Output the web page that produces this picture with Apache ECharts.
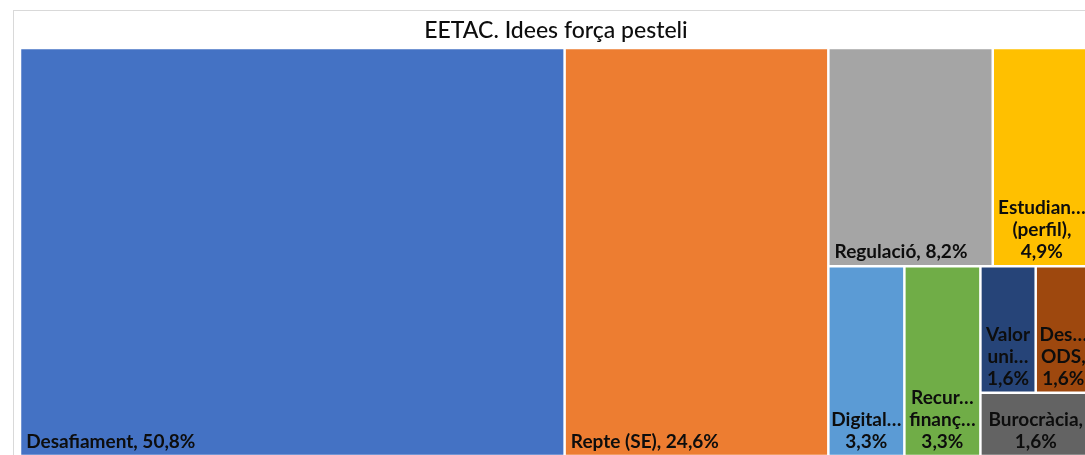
<!DOCTYPE html>
<html>
<head>
<meta charset="utf-8">
<script src="https://cdn.jsdelivr.net/npm/echarts@6/dist/echarts.min.js"></script>
<style>
html, body { margin: 0; padding: 0; background: #fff; overflow: hidden; }
#frame { position: absolute; left: 13px; top: 10px; width: 1200px; height: 600px; border: 1px solid #d9d9d9; box-sizing: border-box; }
#chart { position: absolute; left: 0; top: 0; width: 1085px; height: 455px; }
</style>
</head>
<body>
<div id="frame"></div>
<div id="chart"></div>
<script>
// ---- data ----
const titleText = 'EETAC. Idees força pesteli';
const labels = ['Desafiament,', 'Repte (SE),', 'Regulació,', 'Estudian…\n(perfil),', 'Digital…', 'Recur…\nfinanç…', 'Valor\nuni…', 'Des…\nODS,', 'Burocràcia,'];
const values = [50.8, 24.6, 8.2, 4.9, 3.3, 3.3, 1.6, 1.6, 1.6];
const colors = ['#4472C4', '#ED7D31', '#A5A5A5', '#FFC000', '#5B9BD5', '#70AD47', '#264478', '#9E480E', '#636363'];
// nesting of the items (indices into the arrays above), reproducing the spreadsheet's tiling
const tiling = [[0, 1], [[2, 3], [[4, 5], [[6, 7], 8]]]];

// ---- style ----
const inlineLabel = [0, 1, 2]; // labels on one line at bottom-left
const FONT = 'Lato';

function pct(v) { return v.toFixed(1).replace('.', ',') + '%'; }

function build(node) {
  if (typeof node === 'number') {
    const i = node;
    const inline = inlineLabel.indexOf(i) >= 0;
    return {
      name: labels[i],
      value: values[i],
      itemStyle: { color: colors[i], borderColor: '#ffffff', borderWidth: 1.25 },
      label: {
        show: true,
        position: inline ? 'insideBottomLeft' : 'insideBottom',
        align: inline ? 'left' : 'center',
        formatter: labels[i] + (inline ? ' ' : '\n') + pct(values[i])
      }
    };
  }
  const children = node.map(build);
  let s = 0;
  children.forEach(c => { s += c.value; });
  return {
    name: '',
    value: s,
    children: children,
    itemStyle: { borderWidth: 0, gapWidth: 0 },
    label: { show: false }
  };
}

const chart = echarts.init(document.getElementById('chart'), null, { renderer: 'canvas' });
chart.setOption({
  animation: false,
  title: {
    text: titleText,
    left: 556,
    top: 19,
    textAlign: 'center',
    padding: 0,
    textStyle: { fontFamily: FONT, fontSize: 23, fontWeight: 500, color: '#0d0d0d' }
  },
  series: [{
    type: 'treemap',
    left: 20,
    top: 48,
    width: 1071,
    height: 408,
    squareRatio: 1.42,
    sort: false,
    roam: false,
    nodeClick: false,
    breadcrumb: { show: false },
    visibleMin: 0,
    itemStyle: { borderWidth: 0, gapWidth: 0, borderColor: '#ffffff' },
    upperLabel: { show: false },
    label: {
      show: true,
      color: '#0d0d0d',
      fontFamily: FONT,
      fontWeight: 'bold',
      fontSize: 19,
      lineHeight: 22,
      distance: 0,
      padding: [0, 5, 2, 5],
      overflow: 'none'
    },
    data: build(tiling).children
  }]
});
</script>
</body>
</html>
